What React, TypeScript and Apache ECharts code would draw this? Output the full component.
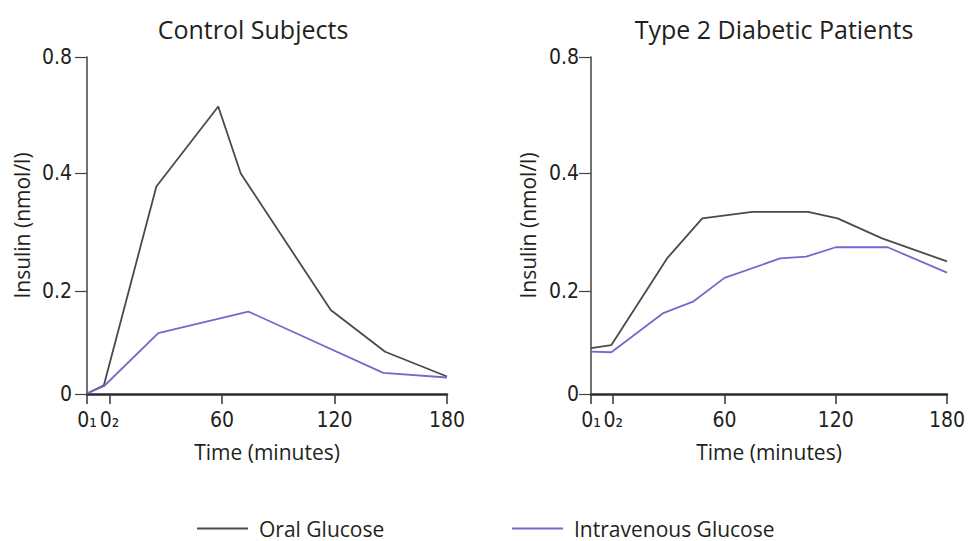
import React, { useEffect, useRef } from "react";
import * as echarts from "echarts";

// ---- data (time in minutes, insulin in nmol/l) ----
const X_TICK_VALUES = [-12, 0, 60, 120, 180];
const X_TICK_LABELS = ["0\u2081", "0\u2082", "60", "120", "180"];
const Y_TICK_VALUES = [0, 0.2, 0.4, 0.8];
const Y_TICK_LABELS = ["0", "0.2", "0.4", "0.8"];

const CONTROL_ORAL_T = [-12, -3, 25, 58, 70, 118, 147, 180];
const CONTROL_ORAL_V = [0.001, 0.017, 0.377, 0.629, 0.399, 0.163, 0.082, 0.034];
const CONTROL_IV_T = [-12, -3, 26, 74, 146, 180];
const CONTROL_IV_V = [0.001, 0.015, 0.118, 0.16, 0.041, 0.032];

const DIAB_ORAL_T = [-12, -1, 29, 48, 75, 105, 121, 145, 180];
const DIAB_ORAL_V = [0.089, 0.095, 0.255, 0.323, 0.334, 0.334, 0.323, 0.289, 0.25];
const DIAB_IV_T = [-12, -1, 27, 43, 60, 90, 104, 120, 148, 180];
const DIAB_IV_V = [0.082, 0.081, 0.157, 0.179, 0.222, 0.255, 0.258, 0.274, 0.274, 0.231];

const TITLES = ["Control Subjects", "Type 2 Diabetic Patients"];
const SERIES_NAMES = ["Oral Glucose", "Intravenous Glucose"];

// The printed y axis is not linear: its ticks sit at these fractions of the axis height.
const Y_TICK_POSITIONS = [0, 0.306, 0.656, 1];

function toAxis(v: number): number {
  for (let i = 1; i < Y_TICK_VALUES.length; i++) {
    if (v <= Y_TICK_VALUES[i] || i === Y_TICK_VALUES.length - 1) {
      const v0 = Y_TICK_VALUES[i - 1];
      const v1 = Y_TICK_VALUES[i];
      const p0 = Y_TICK_POSITIONS[i - 1];
      const p1 = Y_TICK_POSITIONS[i];
      return p0 + ((v - v0) / (v1 - v0)) * (p1 - p0);
    }
  }
  return 0;
}

function pairs(t: number[], v: number[]) {
  return t.map((x, i) => [x, toAxis(v[i])]);
}

const ORAL_COLOR = "#4a4a4a";
const IV_COLOR = "#6f6bcc";
const TEXT_COLOR = "#231f20";
const SANS = "'Open Sans', 'Noto Sans', sans-serif";
const NARROW = "'Liberation Sans Narrow', 'DejaVu Sans Condensed', 'Open Sans', sans-serif";

export default function App() {
  const ref = useRef<HTMLDivElement>(null);

  useEffect(() => {
    if (!ref.current) return;
    const chart = echarts.init(ref.current, undefined, { renderer: "svg" });

    const grids = [
      { left: 87, top: 57, width: 360, height: 337 },
      { left: 591, top: 57, width: 362, height: 337 },
    ];

    const xAxes = grids.map((_, gi) => ({
      type: "value",
      gridIndex: gi,
      min: -12,
      max: 180,
      name: "Time (minutes)",
      nameLocation: "middle",
      nameGap: 47,
      nameTextStyle: { fontFamily: SANS, fontSize: 21, color: TEXT_COLOR },
      axisLine: { show: true, onZero: false, lineStyle: { color: "#2b2b2b", width: 2.5 } },
      axisTick: {
        show: true,
        length: 10,
        customValues: X_TICK_VALUES,
        lineStyle: { color: "#333", width: 1.5 },
      },
      axisLabel: {
        customValues: X_TICK_VALUES,
        margin: 15,
        fontFamily: NARROW,
        fontSize: 21,
        color: TEXT_COLOR,
        formatter: (v: number) => {
          const i = X_TICK_VALUES.indexOf(v);
          return i >= 0 ? X_TICK_LABELS[i] : "";
        },
      },
      splitLine: { show: false },
    }));

    const yAxes = grids.map((_, gi) => ({
      type: "value",
      gridIndex: gi,
      min: 0,
      max: 1,
      name: "Insulin (nmol/l)",
      nameLocation: "middle",
      nameGap: gi === 0 ? 55 : 53,
      nameTextStyle: { fontFamily: SANS, fontSize: 21, color: TEXT_COLOR },
      axisLine: { show: true, onZero: false, lineStyle: { color: "#444", width: 1.5 } },
      axisTick: {
        show: true,
        length: 12,
        customValues: Y_TICK_POSITIONS,
        lineStyle: { color: "#444", width: 1.2 },
      },
      axisLabel: {
        customValues: Y_TICK_POSITIONS,
        margin: gi === 0 ? 15 : 12,
        fontFamily: NARROW,
        fontSize: 21,
        color: TEXT_COLOR,
        formatter: (v: number) => {
          let best = 0;
          Y_TICK_POSITIONS.forEach((p, i) => {
            if (Math.abs(p - v) < Math.abs(Y_TICK_POSITIONS[best] - v)) best = i;
          });
          return Y_TICK_LABELS[best];
        },
      },
      splitLine: { show: false },
    }));

    const lineSeries = (name: string, gi: number, data: number[][], color: string) => ({
      type: "line",
      name,
      xAxisIndex: gi,
      yAxisIndex: gi,
      data,
      showSymbol: false,
      symbol: "none",
      color,
      lineStyle: { color, width: 1.8 },
    });

    const legendBase = {
      top: 513,
      icon: "rect",
      itemWidth: 51,
      itemHeight: 2,
      textStyle: { fontFamily: SANS, fontSize: 21, color: TEXT_COLOR, padding: [0, 0, 0, 6] },
      selectedMode: false,
    };

    chart.setOption({
      animation: false,
      backgroundColor: "#ffffff",
      grid: grids,
      xAxis: xAxes,
      yAxis: yAxes,
      legend: [
        { ...legendBase, left: 192, data: [SERIES_NAMES[0]] },
        { ...legendBase, left: 507, data: [SERIES_NAMES[1]] },
      ],
      graphic: [
        {
          type: "text",
          x: 253,
          y: 29,
          style: {
            text: TITLES[0],
            fontFamily: SANS,
            fontSize: 25,
            fill: TEXT_COLOR,
            textAlign: "center",
            textVerticalAlign: "middle",
          },
        },
        {
          type: "text",
          x: 774,
          y: 29,
          style: {
            text: TITLES[1],
            fontFamily: SANS,
            fontSize: 25,
            fill: TEXT_COLOR,
            textAlign: "center",
            textVerticalAlign: "middle",
          },
        },
      ],
      series: [
        lineSeries(SERIES_NAMES[0], 0, pairs(CONTROL_ORAL_T, CONTROL_ORAL_V), ORAL_COLOR),
        lineSeries(SERIES_NAMES[1], 0, pairs(CONTROL_IV_T, CONTROL_IV_V), IV_COLOR),
        lineSeries(SERIES_NAMES[0], 1, pairs(DIAB_ORAL_T, DIAB_ORAL_V), ORAL_COLOR),
        lineSeries(SERIES_NAMES[1], 1, pairs(DIAB_IV_T, DIAB_IV_V), IV_COLOR),
      ],
    });

    return () => chart.dispose();
  }, []);

  return (
    <div
      ref={ref}
      style={{ position: "fixed", left: 0, top: 0, width: 968, height: 541, background: "#fff" }}
    />
  );
}
